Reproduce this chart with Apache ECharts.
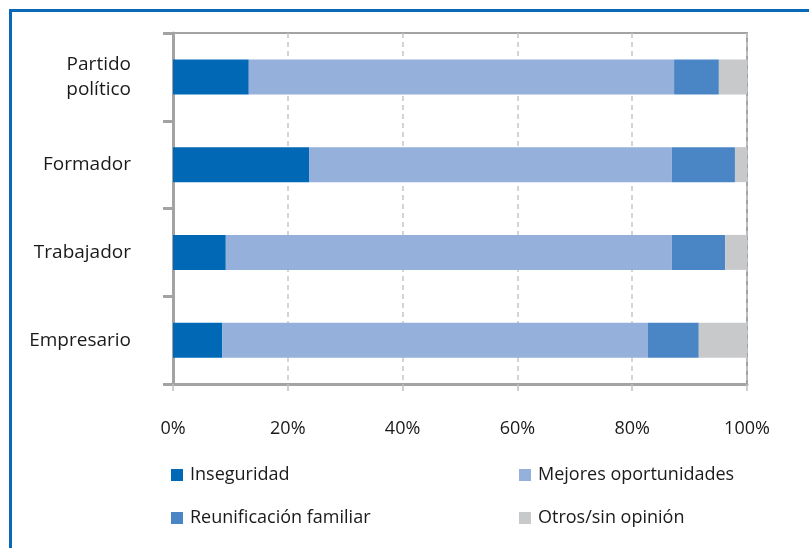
<!DOCTYPE html>
<html>
<head>
<meta charset="utf-8">
<script src="https://cdn.jsdelivr.net/npm/echarts@6/dist/echarts.min.js"></script>
<style>
html,body{margin:0;padding:0;background:#fff;}
#frame{position:absolute;left:9px;top:9px;width:800px;height:539px;border-top:3px solid #0a68b8;border-left:3px solid #0a68b8;box-sizing:border-box;}
#chart{position:absolute;left:0;top:0;width:809px;height:548px;}
</style>
</head>
<body>
<div id="frame"></div>
<div id="chart"></div>
<script>
var categories = ['Partido\npolítico', 'Formador', 'Trabajador', 'Empresario'];
var inseguridad = [13.2, 23.7, 9.2, 8.6];
var mejores = [74.1, 63.2, 77.7, 74.1];
var reunificacion = [7.8, 11.0, 9.3, 8.9];
var otros = [4.9, 2.1, 3.8, 8.4];
var seriesNames = ['Inseguridad', 'Mejores oportunidades', 'Reunificación familiar', 'Otros/sin opinión'];
var xTicks = [0, 20, 40, 60, 80, 100];

var colors = ['#0068b4', '#95b0da', '#4a86c5', '#c8c9cb'];
var font = 'Open Sans';
var chart = echarts.init(document.getElementById('chart'), null, {renderer: 'canvas'});
var dataSets = [inseguridad, mejores, reunificacion, otros];
var series = seriesNames.map(function (n, i) {
  return {
    name: n, type: 'bar', stack: 'total', barWidth: 35,
    data: dataSets[i], itemStyle: {color: colors[i]}
  };
});
chart.setOption({
  animation: false,
  color: colors,
  grid: {left: 173, right: 62, top: 33, bottom: 164, show: true, borderColor: '#a3a3a3', borderWidth: 2, backgroundColor: 'transparent'},
  xAxis: {
    type: 'value', min: xTicks[0], max: xTicks[xTicks.length - 1], interval: 20,
    axisLine: {show: true, lineStyle: {color: '#a3a3a3', width: 3}},
    axisTick: {show: true, length: 7, lineStyle: {color: '#c0c0c0', width: 1.5}},
    axisLabel: {formatter: '{value}%', color: '#1a1a1a', fontSize: 18, fontFamily: font, margin: 36},
    splitLine: {show: true, lineStyle: {color: '#c6c6c6', type: [5, 4], width: 1.5}}
  },
  yAxis: {
    type: 'category', data: categories, inverse: true,
    axisLine: {show: true, lineStyle: {color: '#a3a3a3', width: 3}},
    axisTick: {show: true, length: 10, lineStyle: {color: '#a3a3a3', width: 3}},
    axisLabel: {color: '#1a1a1a', fontSize: 19, fontFamily: font, margin: 42, lineHeight: 25, align: 'right'},
    splitLine: {show: false}
  },
  legend: [
    {left: 166, top: 461, orient: 'vertical', itemGap: 25, itemWidth: 12, itemHeight: 12, icon: 'rect',
     data: [seriesNames[0], seriesNames[2]],
     textStyle: {color: '#1a1a1a', fontSize: 18, fontFamily: font, padding: [0, 0, 0, 2]}},
    {left: 514, top: 461, orient: 'vertical', itemGap: 25, itemWidth: 12, itemHeight: 12, icon: 'rect',
     data: [seriesNames[1], seriesNames[3]],
     textStyle: {color: '#1a1a1a', fontSize: 18, fontFamily: font, padding: [0, 0, 0, 2]}}
  ],
  series: series
});
</script>
</body>
</html>
